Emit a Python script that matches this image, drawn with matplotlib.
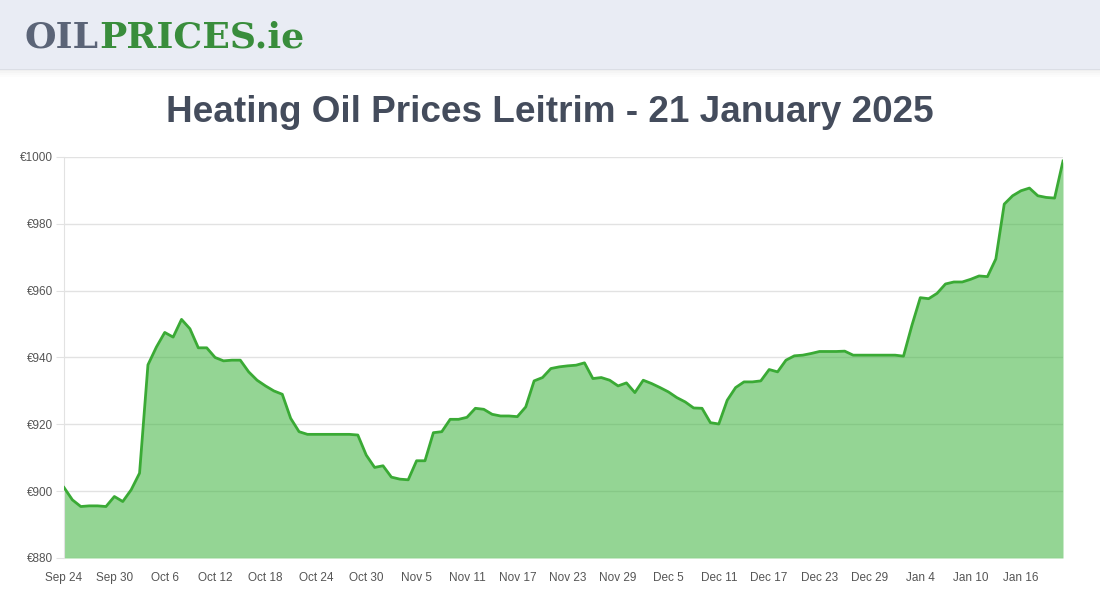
import numpy as np
import pandas as pd
import matplotlib
matplotlib.use('Agg')
import matplotlib.pyplot as plt
from matplotlib.patches import Rectangle

# daily heating oil price, Leitrim, 24 Sep 2024 - 21 Jan 2025
start_date = '2024-09-24'
prices = [
    901.1, 897.4, 895.4, 895.6, 895.6, 895.4, 898.4, 896.9, 900.4, 905.4,
    937.8, 943.1, 947.5, 946.1, 951.4, 948.6, 942.9, 942.9, 940.0, 939.0,
    939.2, 939.2, 935.7, 933.2, 931.5, 930.0, 929.0, 921.8, 917.8, 917.0,
    917.0, 917.0, 917.0, 917.0, 917.0, 916.8, 910.8, 907.1, 907.6, 904.2,
    903.6, 903.4, 909.1, 909.1, 917.5, 917.8, 921.5, 921.5, 922.1, 924.8,
    924.5, 923.0, 922.5, 922.5, 922.3, 925.2, 933.0, 934.0, 936.7, 937.2,
    937.5, 937.7, 938.4, 933.7, 934.0, 933.2, 931.5, 932.4, 929.5, 933.2,
    932.2, 931.0, 929.7, 928.0, 926.7, 924.9, 924.8, 920.5, 920.1, 927.2,
    931.0, 932.7, 932.7, 933.0, 936.4, 935.7, 939.2, 940.5, 940.7, 941.2,
    941.8, 941.8, 941.8, 941.9, 940.7, 940.7, 940.7, 940.7, 940.7, 940.7,
    940.4, 949.6, 957.9, 957.6, 959.2, 962.0, 962.6, 962.6, 963.4, 964.4,
    964.2, 969.5, 985.9, 988.4, 989.9, 990.7, 988.4, 987.9, 987.7, 998.8,
]
dates = pd.date_range(start_date, periods=len(prices), freq='D')
y_ticks = [880, 900, 920, 940, 960, 980, 1000]

title = 'Heating Oil Prices Leitrim - 21 January 2025'

fig = plt.figure(figsize=(11, 6), dpi=100)
fig.patch.set_facecolor('white')

# header band with a soft shadow
fig.patches.append(Rectangle((0, 1 - 70 / 600), 1, 70 / 600, transform=fig.transFigure,
                             facecolor='#e9ecf4', edgecolor='none', zorder=0))
for i, a in enumerate([0.06, 0.04, 0.025, 0.012]):
    fig.patches.append(Rectangle((0, 1 - (71 + i * 2) / 600), 1, 2 / 600, transform=fig.transFigure,
                                 facecolor='black', alpha=a, edgecolor='none', zorder=0))

# logo, scaled so it spans about 25..305 px
logo_fs = 25
logo1 = fig.text(25 / 1100, 1 - 37 / 600, 'OIL', fontsize=logo_fs, fontweight='heavy',
                 family='DejaVu Serif', color='#5b6477', va='center', ha='left')
logo2 = fig.text(0, 1 - 37 / 600, 'PRICES.ie', fontsize=logo_fs, fontweight='heavy',
                 family='DejaVu Serif', color='#398d3c', va='center', ha='left')
fig.canvas.draw()
w = logo1.get_window_extent().width + logo2.get_window_extent().width
logo_fs = logo_fs * 280 / w
logo1.set_fontsize(logo_fs)
logo2.set_fontsize(logo_fs)
fig.canvas.draw()
logo2.set_x(logo1.get_window_extent().x1 / 1100)

# title, squeezed to the reference width (about 167..933 px)
t = fig.text(0.5, 1 - 113 / 600, title, fontsize=30, fontweight='bold',
             family=['Liberation Sans', 'DejaVu Sans'],
             color='#444c5c', ha='center', va='center')
fig.canvas.draw()
t.set_fontsize(30 * 766 / t.get_window_extent().width)

ax = fig.add_axes([64 / 1100, 1 - 558 / 600, (1063 - 64) / 1100, (558 - 157) / 600])
x = np.arange(len(prices))
ax.fill_between(x, 880, prices, color='#3cb43c', alpha=0.55, linewidth=0, zorder=2)
ax.plot(x, prices, color='#3aaa35', linewidth=2, solid_joinstyle='round', zorder=3)

ax.set_xlim(0, len(prices) - 1)
ax.set_ylim(880, 1000)
ax.set_yticks(y_ticks)
ax.set_yticklabels(['€%d' % v for v in y_ticks])
xt = x[::6]
ax.set_xticks(xt)
ax.set_xticklabels([d.strftime('%b ') + str(d.day) for d in dates[xt]])

ax.grid(axis='y', color='#e2e2e2', linewidth=1, zorder=1)
ax.set_axisbelow(True)
for s in ['top', 'right', 'bottom']:
    ax.spines[s].set_visible(False)
ax.spines['left'].set_color('#e2e2e2')
ax.tick_params(axis='y', length=6, color='#e2e2e2', labelsize=8.5, labelcolor='#555555', pad=2)
ax.tick_params(axis='x', length=0, labelsize=8.5, labelcolor='#555555', pad=10)
for lab in ax.get_xticklabels() + ax.get_yticklabels():
    lab.set_family(['Liberation Sans', 'DejaVu Sans'])

fig.savefig('out.png', dpi=100)
